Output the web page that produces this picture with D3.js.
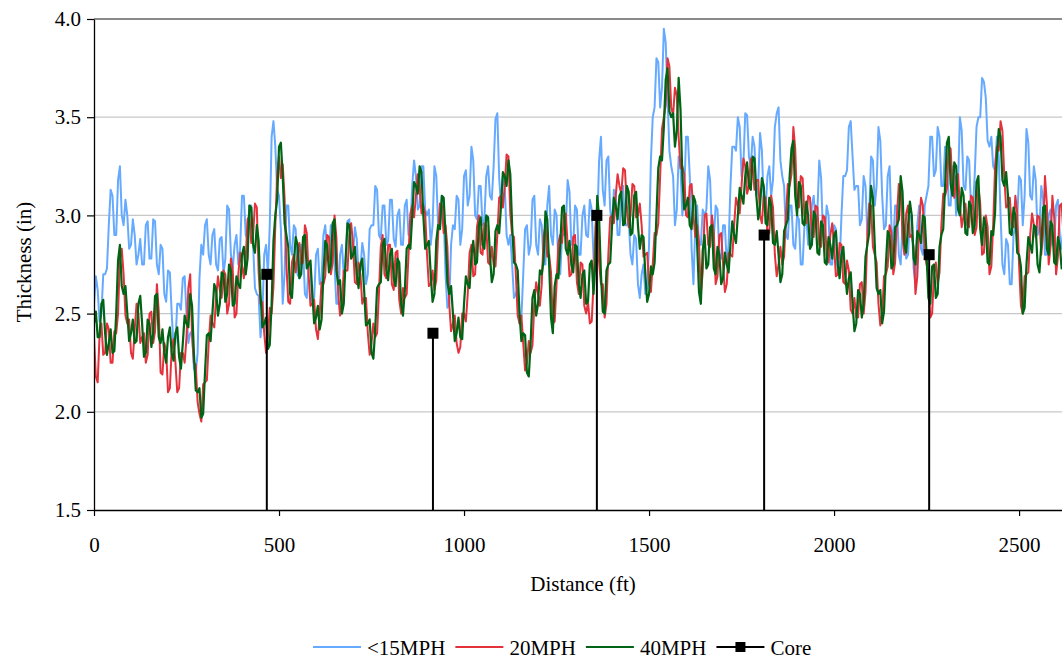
<!DOCTYPE html>
<html>
<head>
<meta charset="utf-8">
<script src="https://cdn.jsdelivr.net/npm/d3@7"></script>
<style>
  body { margin: 0; background: #fff; }
  svg text { font-family: "Liberation Serif", "Times New Roman", serif; fill: #000; }
</style>
</head>
<body>
<svg id="chart" width="1062" height="662"></svg>
<script>
// Pavement thickness profiles, sampled every STEP_FT feet from 0 ft.
const STEP_FT = 5;

const mph15 = [
  2.55,2.69,2.62,2.46,2.50,2.70,2.70,2.73,2.95,3.13,3.10,2.90,2.90,3.18,3.25,3.00,2.95,3.08,3.00,2.83,
  2.85,2.98,2.90,2.75,2.80,2.88,2.75,2.75,2.95,2.97,2.78,2.78,2.98,2.97,2.75,2.70,2.85,2.83,2.60,2.56,
  2.72,2.71,2.50,2.33,2.35,2.55,2.55,2.52,2.68,2.69,2.50,2.35,2.40,2.41,2.22,2.20,2.30,2.68,2.85,2.80,
  2.95,2.98,2.80,2.75,2.90,2.93,2.75,2.72,2.88,2.89,2.70,2.78,3.05,3.03,2.80,2.73,2.85,2.90,2.75,2.83,
  3.10,3.10,2.90,2.88,3.05,3.05,2.85,2.63,2.60,2.59,2.38,2.49,2.80,2.85,2.70,2.95,3.40,3.48,3.35,3.13,
  3.10,2.93,2.55,2.70,3.05,3.05,2.85,2.80,2.95,2.93,2.70,2.68,2.85,2.83,2.60,2.58,2.75,2.75,2.55,2.58,
  2.80,2.83,2.65,2.68,2.90,2.95,2.80,2.78,2.95,2.95,2.75,2.55,2.55,2.80,2.85,2.70,2.75,2.97,2.98,2.79,
  2.80,2.94,2.88,2.70,2.72,2.86,2.80,2.65,2.70,2.93,2.95,2.95,3.15,3.13,2.90,2.88,3.05,3.05,2.85,2.87,
  3.08,3.08,2.88,2.84,3.00,3.03,2.85,2.85,3.05,3.08,2.90,2.93,3.15,3.28,3.20,3.03,3.05,3.25,3.25,3.03,
  3.00,3.03,2.85,2.95,3.25,3.20,2.95,2.93,3.10,3.00,2.70,2.53,2.55,2.85,2.95,2.93,3.10,3.08,2.85,2.93,
  3.20,3.23,3.05,3.10,3.35,3.28,3.00,2.98,3.15,3.15,2.95,2.98,3.20,3.25,3.10,3.08,3.25,3.49,3.52,3.19,
  3.05,3.20,3.15,2.90,2.85,2.90,2.75,2.58,2.60,2.63,2.45,2.48,2.70,2.93,2.95,2.80,2.85,3.08,3.10,2.85,
  2.80,2.98,2.95,2.75,2.75,3.05,3.15,2.90,2.85,3.03,3.00,2.75,2.70,2.90,2.90,2.94,3.18,3.12,2.85,2.85,
  3.05,3.03,2.80,2.80,3.00,3.05,2.90,2.89,3.08,3.03,2.78,2.77,2.95,3.28,3.40,3.13,3.05,3.28,3.30,3.03,
  2.95,3.13,3.10,2.90,2.90,3.13,3.15,2.95,2.95,2.98,2.80,2.75,2.90,2.88,2.65,2.58,2.70,2.75,2.60,2.63,
  2.85,3.28,3.50,3.55,3.80,3.78,3.55,3.65,3.95,3.88,3.60,3.33,3.25,3.20,2.95,3.03,3.30,3.25,3.00,3.10,
  3.40,3.40,3.20,2.83,2.65,2.95,3.05,2.85,2.85,3.03,3.00,3.03,3.25,3.18,2.90,2.88,3.05,3.03,2.80,2.78,
  2.95,2.95,2.75,2.85,3.15,3.35,3.35,3.33,3.50,3.45,3.20,3.26,3.52,3.51,3.30,3.25,3.40,3.35,3.10,3.16,
  3.42,3.33,3.05,3.03,3.20,3.25,3.10,3.18,3.45,3.52,3.55,3.28,3.20,3.15,2.90,2.88,3.05,3.05,2.85,2.83,
  3.00,2.98,2.75,2.75,2.95,3.00,2.85,2.85,3.05,3.10,2.95,3.02,3.28,3.19,2.90,2.88,3.05,3.00,2.75,2.75,
  2.95,2.93,2.70,2.75,3.00,3.20,3.20,3.23,3.45,3.48,3.30,3.13,3.15,3.15,2.95,2.98,3.20,3.15,2.90,3.00,
  3.30,3.28,3.05,3.15,3.45,3.38,3.10,2.93,2.95,3.20,3.25,2.95,2.85,3.05,3.05,2.80,2.75,2.95,2.95,2.78,
  2.80,3.00,3.00,2.73,2.65,2.95,3.05,2.83,2.80,3.05,3.10,3.15,3.40,3.40,3.20,3.23,3.45,3.40,3.15,3.15,
  3.35,3.30,3.05,3.05,3.25,3.23,3.00,3.15,3.50,3.43,3.15,3.13,3.30,3.28,3.05,3.03,3.20,3.45,3.50,3.50,
  3.70,3.68,3.60,3.38,3.35,3.40,3.25,3.23,3.40,3.30,3.00,2.75,2.70,2.88,2.85,2.65,2.65,2.90,2.95,2.98,
  3.20,3.18,2.95,3.10,3.44,3.37,3.10,3.08,3.25,3.18,2.90,2.93,3.15,3.08,2.80,2.80,3.00,3.03,2.85,2.85,
  3.05,3.08,2.90,2.83,2.95
];

const mph20 = [
  2.38,2.18,2.15,2.39,2.45,2.29,2.30,2.45,2.42,2.25,2.25,2.41,2.40,2.50,2.78,2.83,2.70,2.49,2.45,2.47,
  2.30,2.27,2.42,2.55,2.50,2.35,2.38,2.40,2.25,2.29,2.50,2.51,2.35,2.41,2.65,2.51,2.20,2.19,2.35,2.31,
  2.10,2.12,2.32,2.37,2.25,2.10,2.12,2.30,2.30,2.25,2.38,2.63,2.70,2.39,2.25,2.24,2.05,1.99,1.95,2.14,
  2.15,2.16,2.35,2.49,2.45,2.43,2.58,2.69,2.62,2.58,2.72,2.70,2.50,2.55,2.78,2.72,2.48,2.50,2.70,2.81,
  2.75,2.68,2.78,2.98,3.00,2.86,2.90,3.06,3.04,2.71,2.55,2.56,2.40,2.30,2.38,2.53,2.50,2.64,2.95,3.21,
  3.30,3.19,3.26,3.09,2.75,2.56,2.55,2.76,2.80,2.71,2.80,2.86,2.75,2.76,2.95,2.91,2.70,2.54,2.55,2.57,
  2.42,2.37,2.50,2.66,2.65,2.69,2.90,2.89,2.70,2.76,3.00,2.89,2.60,2.49,2.55,2.72,2.72,2.72,2.90,2.96,
  2.85,2.66,2.65,2.76,2.70,2.55,2.58,2.58,2.40,2.29,2.35,2.45,2.38,2.40,2.60,2.84,2.90,2.70,2.68,2.85,
  2.85,2.65,2.62,2.81,2.82,2.57,2.50,2.63,2.58,2.60,2.80,3.01,3.05,2.99,3.10,3.21,3.15,3.01,3.05,3.01,
  2.80,2.64,2.65,2.72,2.62,2.67,2.90,3.06,3.05,2.91,2.95,2.84,2.55,2.41,2.45,2.49,2.35,2.30,2.33,2.50,
  2.50,2.46,2.60,2.81,2.85,2.69,2.70,2.94,3.00,2.81,2.80,2.96,2.95,2.76,2.75,2.84,2.75,2.74,2.90,3.09,
  3.10,3.04,3.15,3.31,3.30,3.01,2.90,2.89,2.70,2.49,2.45,2.49,2.35,2.21,2.25,2.36,2.30,2.34,2.55,2.66,
  2.60,2.54,2.65,2.89,2.95,2.79,2.80,2.71,2.45,2.46,2.65,2.86,2.90,2.86,3.00,3.01,2.85,2.69,2.70,2.89,
  2.90,2.66,2.60,2.76,2.75,2.54,2.50,2.56,2.45,2.46,2.65,2.94,3.05,2.76,2.65,2.65,2.48,2.55,2.80,2.99,
  3.00,2.96,3.10,3.21,3.15,3.11,3.24,3.23,3.05,2.94,3.00,3.16,3.15,2.99,3.00,3.06,2.95,2.79,2.80,2.81,
  2.65,2.61,2.75,2.91,2.90,2.96,3.20,3.44,3.50,3.56,3.80,3.76,3.55,3.51,3.65,3.61,3.40,3.24,3.25,3.21,
  3.00,2.99,3.15,3.16,3.00,2.89,2.95,2.86,2.60,2.71,3.00,3.01,2.85,2.84,3.00,2.91,2.65,2.69,2.90,2.91,
  2.75,2.61,2.65,2.81,2.80,2.79,2.95,3.09,3.05,3.01,3.15,3.29,3.25,3.11,3.15,3.29,3.25,3.13,3.18,3.18,
  3.00,2.96,3.10,3.09,2.90,2.91,3.10,3.04,2.80,2.69,2.75,2.84,2.75,2.79,3.00,3.16,3.15,3.21,3.45,3.34,
  3.05,3.04,3.20,3.19,3.00,2.96,3.10,3.09,2.90,2.89,3.05,3.04,2.85,2.84,3.00,2.99,2.80,2.76,2.90,2.96,
  2.85,2.69,2.70,2.86,2.85,2.66,2.65,2.77,2.72,2.52,2.50,2.58,2.48,2.48,2.65,2.66,2.50,2.61,2.90,3.06,
  3.05,2.84,2.80,2.76,2.55,2.44,2.50,2.69,2.70,2.74,2.95,2.91,2.70,2.76,3.00,3.16,3.15,2.89,2.80,3.01,
  3.05,2.89,2.90,2.84,2.60,2.69,2.95,3.09,3.05,2.81,2.75,2.70,2.48,2.50,2.70,2.76,2.65,2.71,2.95,3.11,
  3.10,3.14,3.35,3.34,3.15,3.09,3.20,3.21,3.05,2.94,3.00,3.06,2.95,2.94,3.10,3.09,2.90,2.94,3.15,3.06,
  2.80,2.81,3.00,2.94,2.70,2.74,2.95,3.24,3.35,3.33,3.48,3.43,3.20,3.04,3.05,3.09,2.95,2.94,3.10,3.01,
  2.75,2.54,2.50,2.69,2.70,2.71,2.90,3.01,2.95,2.89,3.00,2.99,2.80,2.91,3.20,3.06,2.75,2.84,3.10,2.99,
  2.70,2.79,3.05,3.06,2.90
];

const mph40 = [
  2.45,2.51,2.38,2.38,2.55,2.57,2.40,2.29,2.35,2.42,2.30,2.31,2.50,2.77,2.85,2.64,2.60,2.64,2.50,2.36,
  2.40,2.47,2.35,2.36,2.55,2.59,2.45,2.28,2.30,2.47,2.45,2.33,2.40,2.59,2.60,2.38,2.35,2.42,2.30,2.25,
  2.38,2.43,2.30,2.26,2.40,2.43,2.28,2.22,2.35,2.49,2.45,2.43,2.60,2.54,2.30,2.11,2.10,2.12,1.97,1.99,
  2.20,2.39,2.40,2.36,2.50,2.65,2.62,2.49,2.55,2.71,2.70,2.56,2.60,2.75,2.72,2.54,2.55,2.69,2.65,2.63,
  2.80,2.84,2.70,2.78,3.05,3.04,2.85,2.81,2.95,2.87,2.60,2.43,2.45,2.48,2.32,2.34,2.55,2.87,3.00,3.08,
  3.35,3.37,3.20,2.96,2.90,2.84,2.60,2.58,2.75,2.89,2.85,2.68,2.70,2.89,2.90,2.73,2.75,2.77,2.60,2.45,
  2.48,2.54,2.42,2.47,2.70,2.87,2.85,2.71,2.75,2.96,2.98,2.72,2.65,2.67,2.50,2.55,2.78,2.96,2.95,2.78,
  2.80,2.84,2.70,2.63,2.75,2.78,2.62,2.44,2.45,2.47,2.30,2.27,2.42,2.63,2.65,2.66,2.85,2.88,2.72,2.67,
  2.80,2.83,2.68,2.64,2.78,2.76,2.55,2.49,2.62,2.83,2.85,2.83,3.00,3.17,3.15,3.11,3.25,3.22,3.00,2.83,
  2.85,2.87,2.70,2.56,2.60,2.87,2.95,2.93,3.10,3.09,2.90,2.66,2.60,2.64,2.50,2.36,2.40,2.48,2.38,2.37,
  2.55,2.69,2.65,2.63,2.80,2.87,2.75,2.76,2.95,2.99,2.85,2.83,3.00,2.99,2.80,2.66,2.70,2.92,2.95,2.91,
  3.05,3.22,3.20,3.15,3.28,3.21,2.95,2.76,2.75,2.72,2.50,2.36,2.40,2.39,2.20,2.18,2.35,2.58,2.62,2.49,
  2.55,2.72,2.70,2.77,3.02,2.98,2.75,2.48,2.40,2.64,2.70,2.68,2.85,3.04,3.05,2.83,2.80,2.87,2.75,2.71,
  2.85,2.84,2.65,2.58,2.70,2.72,2.55,2.56,2.75,2.77,2.60,2.76,3.10,2.99,2.70,2.51,2.50,2.72,2.75,2.76,
  2.95,3.09,3.05,2.98,3.10,3.12,2.95,2.96,3.15,3.12,2.90,2.91,3.10,3.12,2.95,2.83,2.90,2.89,2.70,2.56,
  2.60,2.74,2.70,2.76,3.00,3.24,3.30,3.28,3.45,3.69,3.75,3.53,3.50,3.52,3.35,3.43,3.70,3.54,3.20,3.03,
  3.05,3.09,2.95,2.93,3.10,3.07,2.85,2.61,2.55,2.82,2.90,2.73,2.75,2.94,2.95,2.73,2.70,2.84,2.80,2.65,
  2.68,2.81,2.75,2.71,2.85,2.97,2.90,2.86,3.00,3.14,3.10,3.06,3.20,3.27,3.15,3.13,3.30,3.29,3.10,2.98,
  3.05,3.19,3.15,2.96,2.95,3.09,3.05,2.86,2.85,2.92,2.80,2.66,2.70,2.92,2.95,2.98,3.20,3.34,3.38,3.10,
  3.00,3.17,3.15,2.96,2.95,3.07,3.00,2.83,2.85,3.02,3.00,2.81,2.80,2.97,2.95,2.76,2.75,2.89,2.85,2.78,
  2.90,2.92,2.75,2.68,2.80,2.84,2.70,2.60,2.68,2.71,2.55,2.41,2.45,2.62,2.60,2.48,2.55,2.79,2.85,2.91,
  3.15,3.09,2.85,2.63,2.60,2.62,2.45,2.51,2.75,2.92,2.90,2.73,2.75,2.94,2.95,2.98,3.20,3.12,2.85,2.81,
  2.95,3.07,3.00,2.78,2.75,2.92,2.90,2.86,3.00,2.99,2.80,2.58,2.55,2.74,2.75,2.58,2.60,2.84,2.90,2.93,
  3.15,3.37,3.40,3.16,3.10,3.27,3.25,3.03,3.00,3.14,3.10,2.91,2.90,3.07,3.05,2.91,2.95,3.17,3.20,2.93,
  2.85,2.99,2.95,2.76,2.75,2.92,2.90,3.01,3.30,3.44,3.40,3.18,3.15,3.22,3.10,2.91,2.90,3.04,3.00,2.81,
  2.80,2.74,2.50,2.53,2.75,2.89,2.85,2.81,2.95,2.94,2.75,2.71,2.85,3.04,3.05,2.83,2.80,2.97,2.95,2.76,
  2.75,2.89,2.85,2.73,2.80
];

// Core samples: distance (ft) and measured thickness (in)
const coreDistance = [467, 916, 1359, 1811, 2257];
const coreThickness = [2.7, 2.4, 3.0, 2.9, 2.8];

const xTicks = [0, 500, 1000, 1500, 2000, 2500];
const yTicks = [1.5, 2.0, 2.5, 3.0, 3.5, 4.0];
const seriesNames = ["<15MPH", "20MPH", "40MPH", "Core"];
const seriesColors = ["#66aaff", "#e3323c", "#006414", "#000000"];

const svg = d3.select("#chart");
const plot = { left: 94, top: 19, right: 1062, bottom: 510 };

const x = d3.scaleLinear().domain([0, 2616]).range([plot.left, plot.right]);
const y = d3.scaleLinear().domain([1.5, 4.0]).range([plot.bottom, plot.top]);

// horizontal gridlines
svg.append("g")
  .selectAll("line")
  .data(yTicks.filter(v => v > 1.5))
  .join("line")
  .attr("x1", plot.left).attr("x2", plot.right)
  .attr("y1", d => y(d)).attr("y2", d => y(d))
  .attr("stroke", d => d === 4.0 ? "#8a8a8a" : "#c8c8c8")
  .attr("stroke-width", d => d === 4.0 ? 2 : 1.2);

svg.append("clipPath").attr("id", "plotClip")
  .append("rect")
  .attr("x", plot.left).attr("y", plot.top)
  .attr("width", plot.right - plot.left).attr("height", plot.bottom - plot.top);

const line = d3.line()
  .x((d, i) => x(i * STEP_FT))
  .y(d => y(d));

const lines = svg.append("g").attr("clip-path", "url(#plotClip)");
[mph15, mph20, mph40].forEach((series, k) => {
  lines.append("path")
    .datum(series)
    .attr("fill", "none")
    .attr("stroke", seriesColors[k])
    .attr("stroke-width", k === 2 ? 2.2 : 2)
    .attr("stroke-linejoin", "round")
    .attr("d", line);
});

// core drop lines and markers
const cores = coreDistance.map((d, i) => ({ d, v: coreThickness[i] }));
const coreG = svg.append("g");
coreG.selectAll("line")
  .data(cores)
  .join("line")
  .attr("x1", c => x(c.d)).attr("x2", c => x(c.d))
  .attr("y1", c => y(c.v)).attr("y2", y(1.5))
  .attr("stroke", "#000").attr("stroke-width", 2);
coreG.selectAll("rect")
  .data(cores)
  .join("rect")
  .attr("x", c => x(c.d) - 5.5).attr("y", c => y(c.v) - 5.5)
  .attr("width", 11).attr("height", 11)
  .attr("fill", "#000");

// axes
const yAxis = svg.append("g")
  .attr("transform", `translate(${plot.left},0)`)
  .call(d3.axisLeft(y).tickValues(yTicks).tickFormat(d3.format(".1f")).tickSize(7).tickPadding(6).tickSizeOuter(0));
yAxis.select(".domain").attr("stroke", "#000").attr("stroke-width", 1.3);
yAxis.selectAll(".tick line").attr("stroke", "#000").attr("stroke-width", 1.2);
yAxis.selectAll(".tick text").attr("font-size", 21);

const xAxis = svg.append("g")
  .attr("transform", `translate(0,${plot.bottom})`)
  .call(d3.axisBottom(x).tickValues(xTicks).tickFormat(d3.format("d")).tickSize(6).tickSizeOuter(0));
xAxis.select(".domain").attr("stroke", "#000").attr("stroke-width", 1.3);
xAxis.selectAll(".tick line").attr("stroke", "#000").attr("stroke-width", 1.2);
xAxis.selectAll(".tick text")
  .attr("font-size", 21)
  .attr("y", 42).attr("dy", null);

// axis titles
svg.append("text")
  .attr("x", 583).attr("y", 591)
  .attr("text-anchor", "middle")
  .attr("font-size", 21)
  .text("Distance (ft)");

svg.append("text")
  .attr("transform", "translate(31,262) rotate(-90)")
  .attr("text-anchor", "middle")
  .attr("font-size", 21)
  .text("Thickness (in)");

// legend
const legend = svg.append("g").attr("transform", "translate(0,647)");
let cursor = 313;
seriesNames.forEach((name, k) => {
  const g = legend.append("g");
  g.append("line")
    .attr("x1", cursor).attr("x2", cursor + 48)
    .attr("y1", 0).attr("y2", 0)
    .attr("stroke", seriesColors[k]).attr("stroke-width", 2);
  if (name === "Core") {
    g.append("rect")
      .attr("x", cursor + 24 - 5).attr("y", -5)
      .attr("width", 10).attr("height", 10)
      .attr("fill", "#000");
  }
  const t = g.append("text")
    .attr("x", cursor + 54).attr("y", 8)
    .attr("font-size", 21)
    .text(name);
  cursor += 54 + t.node().getComputedTextLength() + 10;
});
</script>
</body>
</html>
